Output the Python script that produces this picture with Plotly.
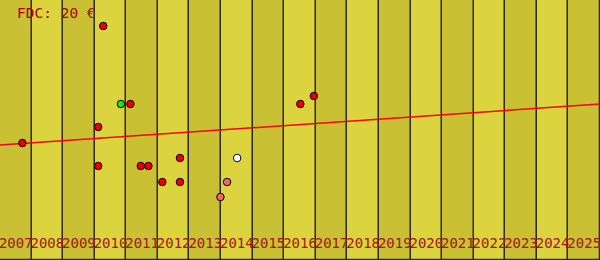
import plotly.graph_objects as go

years = list(range(2007, 2026))
band_colors = ["#c9c034" if i % 2 == 0 else "#dcd43e" for i in range(len(years))]
band_height = 26

pt_x = [2007.21, 2009.61, 2009.61, 2009.77, 2010.33, 2010.63, 2010.96, 2011.20,
        2011.64, 2012.20, 2012.20, 2013.48, 2013.69, 2014.01, 2016.01, 2016.44]
pt_y = [11.7, 13.3, 9.4, 23.4, 15.6, 15.6, 9.4, 9.4,
        7.8, 10.2, 7.8, 6.3, 7.8, 10.2, 15.6, 16.4]
pt_color = ["#ee0000", "#ee0000", "#ee0000", "#ee0000", "#22dd22", "#ee0000", "#ee0000", "#ee0000",
            "#ee0000", "#ee0000", "#ee0000", "#f06868", "#f06868", "#ffffff", "#ee0000", "#ee0000"]

trend_x = [2006.5, 2025.5]
trend_y = [11.5, 15.6]

label_y = 1.55
title_text = "FDC: 20 €"

fig = go.Figure()
fig.add_trace(go.Bar(
    x=years, y=[band_height] * len(years), width=1,
    marker=dict(color=band_colors, line=dict(color="#2c2c30", width=1.3)),
    hoverinfo="skip", showlegend=False,
))
fig.add_trace(go.Scatter(
    x=trend_x, y=trend_y, mode="lines",
    line=dict(color="#ff0000", width=1.5), showlegend=False, hoverinfo="skip",
))
fig.add_trace(go.Scatter(
    x=years, y=[label_y] * len(years), mode="text", text=[str(y) for y in years],
    textposition="middle center",
    textfont=dict(family="DejaVu Sans Mono", size=14, color="#a51414"),
    showlegend=False, hoverinfo="skip",
))
fig.add_trace(go.Scatter(
    x=pt_x, y=pt_y, mode="markers",
    marker=dict(size=7.5, color=pt_color, line=dict(color="#000000", width=1)),
    showlegend=False,
))

fig.add_annotation(
    text=title_text, xref="paper", yref="paper", x=0, y=1,
    xanchor="left", yanchor="top", xshift=15, yshift=-3, showarrow=False,
    font=dict(family="DejaVu Sans Mono", size=14.5, color="#b00000"),
)

fig.update_layout(
    width=600, height=260, margin=dict(l=0, r=0, t=0, b=0),
    paper_bgcolor="#dcd43e", plot_bgcolor="#dcd43e",
    bargap=0,
    xaxis=dict(range=[2006.5, 2025.5], showgrid=False, zeroline=False,
               showticklabels=False, ticks="", fixedrange=True),
    yaxis=dict(range=[0, 26], showgrid=False, zeroline=False,
               showticklabels=False, ticks="", fixedrange=True),
)

fig.write_html("out.html", config={"displayModeBar": False})
